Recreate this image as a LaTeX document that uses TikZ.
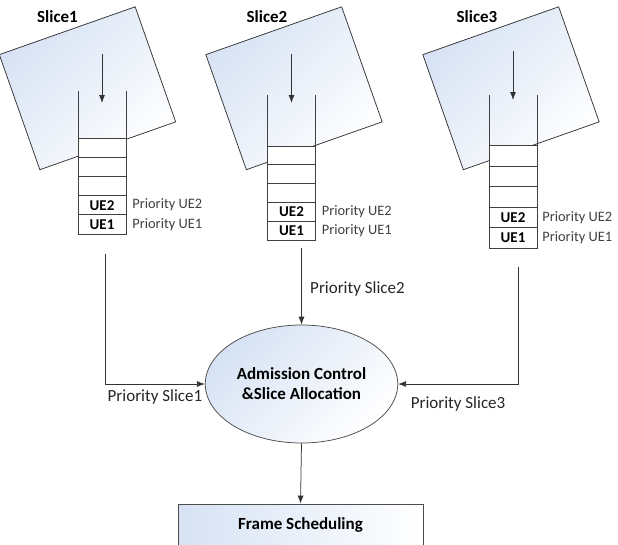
\documentclass[tikz,border=0pt]{standalone}
\usepackage{fontspec}
\setmainfont{Carlito}
\usetikzlibrary{shapes.geometric,positioning,arrows.meta}
\definecolor{softblue}{RGB}{214,226,244}
\definecolor{inkgray}{RGB}{64,64,64}

\begin{document}
\begin{tikzpicture}[
    x=1pt, y=-1pt, line width=0.75pt,
    slicebox/.style={rectangle, draw=black!80, top color=softblue, bottom color=white, shading angle=45, minimum width=144pt, minimum height=122pt, rotate=19.4},
    cell/.style={rectangle, draw=inkgray, fill=white, minimum width=48pt, minimum height=19.2pt, inner sep=0pt, outer sep=0pt, font=\fontsize{15}{16}\selectfont\bfseries},
    prio/.style={anchor=west, text=inkgray, inner sep=0pt, font=\fontsize{14.4}{16}\selectfont},
    title/.style={font=\fontsize{17}{19}\selectfont\bfseries},
    link/.style={font=\fontsize{17}{19}\selectfont, text=black!85},
    flow/.style={-{Latex[length=8pt,width=6pt]}, black!80},
    roundnode/.style={ellipse, draw=black!70, top color=softblue, bottom color=white, shading angle=45, minimum width=177pt, minimum height=118pt, align=center, font=\fontsize{17}{20}\selectfont\bfseries},
    squarednode/.style={rectangle, draw=black!70, left color=softblue, right color=white, minimum width=245pt, minimum height=42pt, font=\fontsize{17}{19}\selectfont\bfseries},
]
    \useasboundingbox (0,0) rectangle (618,544);

    %Slices
    \node[slicebox] (slice1) at (87.5,88.25) {};
    \node[slicebox] (slice2) at (294,88.25) {};
    \node[slicebox] (slice3) at (511,88.25) {};
    \node[title] (name1) at (57.5,17) {Slice1};
    \node[title] (name2) at (267,17) {Slice2};
    \node[title] (name3) at (477,17) {Slice3};

    %Queue 1
    \node[cell] (q1ue1) at (102,224.4) {UE1};
    \node[cell, above=0pt of q1ue1] (q1ue2) {UE2};
    \node[cell, above=0pt of q1ue2] (q1c3) {};
    \node[cell, above=0pt of q1c3] (q1c4) {};
    \node[cell, above=0pt of q1c4] (q1c5) {};
    \draw[inkgray] (q1c5.north west) -- ++(0,-47);
    \draw[inkgray] (q1c5.north east) -- ++(0,-47);
    \node[prio] (p1ue2) at ([xshift=6pt]q1ue2.east) {Priority UE2};
    \node[prio] (p1ue1) at ([xshift=6pt]q1ue1.east) {Priority UE1};

    %Queue 2
    \begin{scope}[cell/.append style={minimum height=18.8pt}]
    \node[cell] (q2ue1) at (291.5,230.6) {UE1};
    \node[cell, above=0pt of q2ue1] (q2ue2) {UE2};
    \node[cell, above=0pt of q2ue2] (q2c3) {};
    \node[cell, above=0pt of q2c3] (q2c4) {};
    \node[cell, above=0pt of q2c4] (q2c5) {};
    \end{scope}
    \draw[inkgray] (q2c5.north west) -- ++(0,-51);
    \draw[inkgray] (q2c5.north east) -- ++(0,-51);
    \node[prio] (p2ue2) at ([xshift=6pt]q2ue2.east) {Priority UE2};
    \node[prio] (p2ue1) at ([xshift=6pt]q2ue1.east) {Priority UE1};

    %Queue 3
    \begin{scope}[cell/.append style={minimum height=20.5pt}]
    \node[cell] (q3ue1) at (513,237.75) {UE1};
    \node[cell, above=0pt of q3ue1] (q3ue2) {UE2};
    \node[cell, above=0pt of q3ue2] (q3c3) {};
    \node[cell, above=0pt of q3c3] (q3c4) {};
    \node[cell, above=0pt of q3c4] (q3c5) {};
    \end{scope}
    \draw[inkgray] (q3c5.north west) -- ++(0,-50.5);
    \draw[inkgray] (q3c5.north east) -- ++(0,-50.5);
    \node[prio] (p3ue2) at ([xshift=5pt]q3ue2.east) {Priority UE2};
    \node[prio] (p3ue1) at ([xshift=5pt]q3ue1.east) {Priority UE1};

    %Scheduler
    \node[roundnode] (alloc) at (301.5,384) {Admission Control\\\&Slice Allocation};
    \node[squarednode] (frame) at (300.5,525) {Frame Scheduling};

    %Coordinates
    \coordinate (in1) at (102,54);  \coordinate (top1) at (102,103);
    \coordinate (in2) at (291.5,54); \coordinate (top2) at (291.5,103);
    \coordinate (in3) at (513,51);  \coordinate (top3) at (513,100);
    \coordinate (out1) at (105,254);
    \coordinate (out2) at (301.5,248);
    \coordinate (out3) at (518,267);

    %Lines
    \draw[flow] (in1) -- (top1);
    \draw[flow] (in2) -- (top2);
    \draw[flow] (in3) -- (top3);
    \draw[flow] (out1) |- node[link, pos=0.75, below=2pt]{Priority Slice1} (alloc.west);
    \draw[flow] (out2) -- node[link, pos=0.53, right=5pt]{Priority Slice2} (alloc.north);
    \draw[flow] (out3) |- node[link, pos=0.75, below=9pt]{Priority Slice3} (alloc.east);
    \draw[flow] (alloc.south) -- (frame.north);
\end{tikzpicture}
\end{document}
